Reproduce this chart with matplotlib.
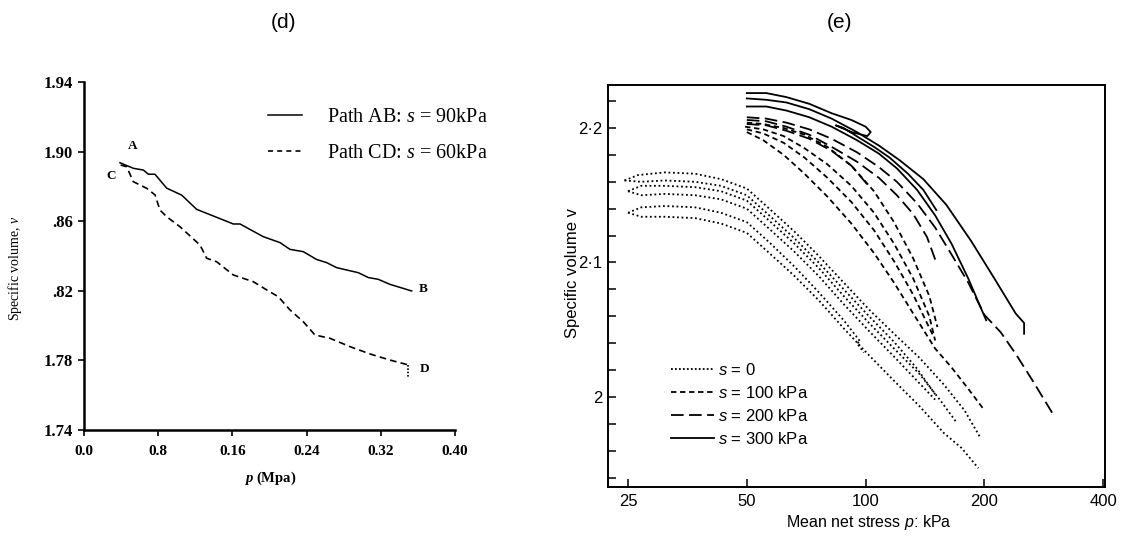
import matplotlib
matplotlib.use("Agg")
import matplotlib.pyplot as plt
from matplotlib import font_manager
from matplotlib.ticker import FixedLocator, FixedFormatter, NullLocator
from matplotlib.lines import Line2D

# ---------------- data: panel (d) ----------------
ab_p = [0.0388, 0.0532, 0.064, 0.0694, 0.0765, 0.0891, 0.1053, 0.1215, 0.1394, 0.161, 0.1682,
        0.1933, 0.2113, 0.2221, 0.2364, 0.2508, 0.2616, 0.2724, 0.2958, 0.3066, 0.3173, 0.3299, 0.3533]
ab_v = [1.8936, 1.8904, 1.8894, 1.887, 1.887, 1.879, 1.875, 1.8668, 1.863, 1.8584, 1.8584,
        1.8511, 1.8477, 1.8438, 1.8425, 1.838, 1.8362, 1.8333, 1.8304, 1.8276, 1.8266, 1.8237, 1.8199]
cd_p = [0.0395, 0.046, 0.0532, 0.0676, 0.0766, 0.0819, 0.0891, 0.1035, 0.1251, 0.1323, 0.143,
        0.161, 0.1826, 0.197, 0.2095, 0.2221, 0.2365, 0.249, 0.2652, 0.2868, 0.3084, 0.3299, 0.3497]
cd_v = [1.8923, 1.8913, 1.8827, 1.8789, 1.8751, 1.8664, 1.8626, 1.8568, 1.8463, 1.8387, 1.8367,
        1.8291, 1.8252, 1.8205, 1.8166, 1.809, 1.8022, 1.7946, 1.7927, 1.7879, 1.7837, 1.7802, 1.7774]
cd_end_p = [0.3497, 0.3497]
cd_end_v = [1.7774, 1.7706]
d_point_names = ["A", "B", "C", "D"]
d_point_p = [0.0529, 0.3655, 0.0291, 0.3677]
d_point_v = [1.9032, 1.8210, 1.8860, 1.7753]
d_xticks = [0.0, 0.08, 0.16, 0.24, 0.32, 0.40]
d_xticklabels = ["0.0", "0.8", "0.16", "0.24", "0.32", "0.40"]
d_yticks = [1.74, 1.78, 1.82, 1.86, 1.90, 1.94]
d_yticklabels = ["1.74", "1.78", ".82", ".86", "1.90", "1.94"]
d_labels = ["Path AB: $s$ = 90kPa", "Path CD: $s$ = 60kPa"]

# ---------------- data: panel (e) ----------------
# s = 0 (dotted)
s0_p = [
    [24.5, 26.5, 31, 37, 43, 50, 57, 66, 76, 88, 102, 118, 137, 158, 178, 195],
    [24.5, 27, 31, 37, 43, 50, 57, 66, 76, 88, 102, 118, 135, 150],
    [25, 27, 31, 37, 43, 50, 57, 66, 76, 88, 102, 118, 137, 155, 170],
    [25, 27, 31, 37, 43, 50, 57, 66, 76, 88, 102, 118, 137, 150],
    [25, 27, 31, 37, 43, 50, 57, 66, 76, 88, 93, 97, 95, 99],
    [25, 27, 31, 37, 43, 50, 57, 66, 76, 88, 102, 118, 137, 158, 175, 193],
]
s0_v = [
    [2.161, 2.165, 2.167, 2.166, 2.162, 2.155, 2.140, 2.123, 2.105, 2.085, 2.065, 2.047, 2.029, 2.009, 1.990, 1.970],
    [2.161, 2.160, 2.161, 2.160, 2.157, 2.150, 2.135, 2.118, 2.100, 2.080, 2.060, 2.041, 2.021, 2.002],
    [2.153, 2.157, 2.157, 2.156, 2.153, 2.146, 2.131, 2.114, 2.096, 2.075, 2.055, 2.036, 2.017, 1.997, 1.981],
    [2.153, 2.150, 2.151, 2.150, 2.147, 2.140, 2.125, 2.108, 2.090, 2.069, 2.049, 2.030, 2.010, 1.998],
    [2.137, 2.141, 2.142, 2.141, 2.137, 2.130, 2.115, 2.097, 2.078, 2.057, 2.048, 2.041, 2.040, 2.033],
    [2.137, 2.134, 2.134, 2.133, 2.129, 2.122, 2.107, 2.090, 2.072, 2.051, 2.031, 2.012, 1.993, 1.973, 1.962, 1.947],
]
# s = 100 kPa (dashed)
s100_p = [
    [50, 55, 62, 70, 80, 92, 105, 118, 132, 145, 152],
    [49.5, 55, 62, 70, 80, 92, 105, 118, 132, 145, 150],
    [50, 55, 62, 70, 80, 92, 105, 118, 132, 148],
    [50, 55, 62, 70, 80, 92, 105, 118, 132, 150, 165, 182, 200],
]
s100_v = [
    [2.204, 2.203, 2.200, 2.195, 2.186, 2.172, 2.153, 2.130, 2.103, 2.075, 2.052],
    [2.201, 2.199, 2.194, 2.185, 2.173, 2.157, 2.137, 2.114, 2.088, 2.060, 2.042],
    [2.199, 2.196, 2.189, 2.178, 2.163, 2.145, 2.124, 2.101, 2.076, 2.046],
    [2.197, 2.191, 2.180, 2.166, 2.149, 2.129, 2.107, 2.085, 2.062, 2.036, 2.022, 2.006, 1.990],
]
# s = 200 kPa (long dash)
s200_p = [
    [50, 56, 63, 72, 82, 95, 108, 120, 135, 150, 165, 182, 200, 220, 240, 265, 300],
    [50, 56, 63, 72, 82, 95, 108, 120, 132, 143, 151],
    [50, 56, 63, 72, 82, 92, 101],
]
s200_v = [
    [2.208, 2.207, 2.204, 2.199, 2.192, 2.182, 2.171, 2.160, 2.144, 2.126, 2.106, 2.085, 2.061, 2.048, 2.032, 2.012, 1.986],
    [2.206, 2.205, 2.201, 2.195, 2.186, 2.175, 2.163, 2.150, 2.136, 2.119, 2.100],
    [2.203, 2.202, 2.198, 2.192, 2.183, 2.172, 2.158],
]
# s = 300 kPa (solid)
s300_p = [
    [50, 56, 63, 72, 82, 95, 108, 122, 140, 160, 185, 212, 240, 252, 252],
    [50, 56, 63, 72, 82, 95, 108, 120, 135, 150, 165, 182, 202],
    [50, 56, 63, 72, 82, 92, 100, 103, 101, 92, 84, 88, 96, 105, 115, 128, 140, 151],
]
s300_v = [
    [2.222, 2.221, 2.219, 2.214, 2.207, 2.197, 2.187, 2.176, 2.162, 2.143, 2.116, 2.088, 2.062, 2.055, 2.047],
    [2.216, 2.216, 2.213, 2.208, 2.201, 2.191, 2.181, 2.170, 2.154, 2.135, 2.114, 2.088, 2.057],
    [2.226, 2.226, 2.223, 2.218, 2.211, 2.206, 2.201, 2.197, 2.194, 2.197, 2.202, 2.200, 2.193, 2.186, 2.178, 2.166, 2.154, 2.139],
]
e_xticks = [25, 50, 100, 200, 400]
e_xticklabels = ["25", "50", "100", "200", "400"]
e_yticks = [2.0, 2.1, 2.2]
e_yticklabels = ["2", "2·1", "2·2"]
e_yminor = [1.94, 1.96, 1.98, 2.02, 2.04, 2.06, 2.08, 2.12, 2.14, 2.16, 2.18, 2.22]
e_labels = ["$\\mathsf{s}$ = 0", "$\\mathsf{s}$ = 100 kPa", "$\\mathsf{s}$ = 200 kPa", "$\\mathsf{s}$ = 300 kPa"]

# ---------------- fonts ----------------
names = {f.name for f in font_manager.fontManager.ttflist}
SANS = "Liberation Sans Narrow" if "Liberation Sans Narrow" in names else "Liberation Sans"
SERIF = "Liberation Serif"
plt.rcParams["mathtext.fontset"] = "custom"
plt.rcParams["mathtext.rm"] = SERIF
plt.rcParams["mathtext.it"] = SERIF + ":italic"
plt.rcParams["mathtext.bf"] = SERIF + ":bold"
plt.rcParams["mathtext.bfit"] = SERIF + ":bold:italic"
plt.rcParams["mathtext.sf"] = SANS + ":italic"

fig = plt.figure(figsize=(11.29, 5.36), dpi=100)
W, H = 1129.0, 536.0

# ================= panel (d) =================
dl, dr, dt, db = 84, 455, 82, 430
axd = fig.add_axes([dl / W, 1 - db / H, (dr - dl) / W, (db - dt) / H])
axd.plot(ab_p, ab_v, color="black", lw=1.1)
axd.plot(cd_p, cd_v, color="black", lw=1.2, ls=(0, (4, 2.5)))
axd.plot(cd_end_p, cd_end_v, color="black", lw=1.2, ls=(0, (1, 1)))
axd.set_xlim(0, 0.40)
axd.set_ylim(1.74, 1.94)
for sp in ["top", "right"]:
    axd.spines[sp].set_visible(False)
for sp in ["left", "bottom"]:
    axd.spines[sp].set_linewidth(1.8)
axd.xaxis.set_major_locator(FixedLocator(d_xticks))
axd.xaxis.set_major_formatter(FixedFormatter(d_xticklabels))
axd.yaxis.set_major_locator(FixedLocator(d_yticks))
axd.yaxis.set_major_formatter(FixedFormatter(d_yticklabels))
axd.tick_params(direction="out", length=4, width=1.2)
axd.tick_params(axis="x", pad=7)
axd.tick_params(axis="y", pad=4)
for lab in axd.get_xticklabels():
    lab.set_fontfamily(SERIF)
    lab.set_fontweight("bold")
    lab.set_fontsize(11)
for lab in axd.get_yticklabels():
    lab.set_fontfamily(SERIF)
    lab.set_fontweight("bold")
    lab.set_fontsize(12)
for name, x, y in zip(d_point_names, d_point_p, d_point_v):
    axd.text(x, y, name, fontsize=9.5, fontweight="bold", family=SERIF, ha="center", va="center")
axd.set_ylabel("Specific volume, $v$", fontsize=10, family=SERIF)
axd.yaxis.set_label_coords((24 - dl) / (dr - dl), (db - 268) / (db - dt))
axd.set_xlabel("$\\mathbfit{p}$ (Mpa)", fontsize=10.5, family=SERIF, fontweight="bold")
axd.xaxis.set_label_coords((270 - dl) / (dr - dl), (db - 470) / (db - dt))
hd = [Line2D([], [], color="black", lw=1.1), Line2D([], [], color="black", lw=1.2, ls=(0, (3, 2.5)))]
axd.legend(hd, d_labels, loc="upper left", bbox_to_anchor=((268 - dl) / (dr - dl), (db - 108) / (db - dt)),
           frameon=False, prop={"family": SERIF, "size": 14.5}, handlelength=1.7, handletextpad=1.25,
           labelspacing=0.85, borderpad=0, borderaxespad=0)
fig.text(283 / W, 1 - 22 / H, "(d)", ha="center", va="center", fontsize=15, family="Liberation Sans")

# ================= panel (e) =================
el, er, et, eb = 608, 1105, 85, 487
axe = fig.add_axes([el / W, 1 - eb / H, (er - el) / W, (eb - et) / H])
axe.set_xscale("log")
for pp, vv in zip(s0_p, s0_v):
    axe.plot(pp, vv, color="black", lw=1.3, ls=(0, (1, 1.5)))
for pp, vv in zip(s100_p, s100_v):
    axe.plot(pp, vv, color="black", lw=1.3, ls=(0, (3, 2)))
for pp, vv in zip(s200_p, s200_v):
    axe.plot(pp, vv, color="black", lw=1.3, ls=(0, (7, 3)))
for pp, vv in zip(s300_p, s300_v):
    axe.plot(pp, vv, color="black", lw=1.3)
axe.set_xlim(22.25, 404)
axe.set_ylim(1.933, 2.232)
for sp in axe.spines.values():
    sp.set_linewidth(1.4)
axe.xaxis.set_major_locator(FixedLocator(e_xticks))
axe.xaxis.set_major_formatter(FixedFormatter(e_xticklabels))
axe.xaxis.set_minor_locator(NullLocator())
axe.yaxis.set_major_locator(FixedLocator(e_yticks))
axe.yaxis.set_major_formatter(FixedFormatter(e_yticklabels))
axe.yaxis.set_minor_locator(FixedLocator(e_yminor))
axe.tick_params(which="both", direction="in", length=6, width=1.1)
axe.tick_params(axis="x", pad=5)
axe.tick_params(axis="y", pad=4)
for lab in axe.get_xticklabels() + axe.get_yticklabels():
    lab.set_fontfamily(SANS)
    lab.set_fontsize(12)
axe.set_xlabel("Mean net stress $\\mathsf{p}$: kPa", fontsize=11.5, family=SANS)
axe.xaxis.set_label_coords((869 - el) / (er - el), (eb - 513) / (eb - et))
axe.set_ylabel("Specific volume v", fontsize=12, family=SANS)
axe.yaxis.set_label_coords((580 - el) / (er - el), (eb - 273) / (eb - et))
he = [Line2D([], [], color="black", lw=1.3, ls=(0, (1, 1.2))),
      Line2D([], [], color="black", lw=1.3, ls=(0, (3, 2))),
      Line2D([], [], color="black", lw=1.3, ls=(0, (7, 3))),
      Line2D([], [], color="black", lw=1.3)]
axe.legend(he, e_labels, loc="upper left", bbox_to_anchor=((671 - el) / (er - el), (eb - 362) / (eb - et)),
           frameon=False, prop={"family": SANS, "size": 12}, handlelength=2.6, handletextpad=0.2,
           labelspacing=0.42, borderpad=0, borderaxespad=0)
fig.text(840 / W, 1 - 22 / H, "(e)", ha="center", va="center", fontsize=15, family="Liberation Sans")

fig.savefig("out.png", dpi=100)
